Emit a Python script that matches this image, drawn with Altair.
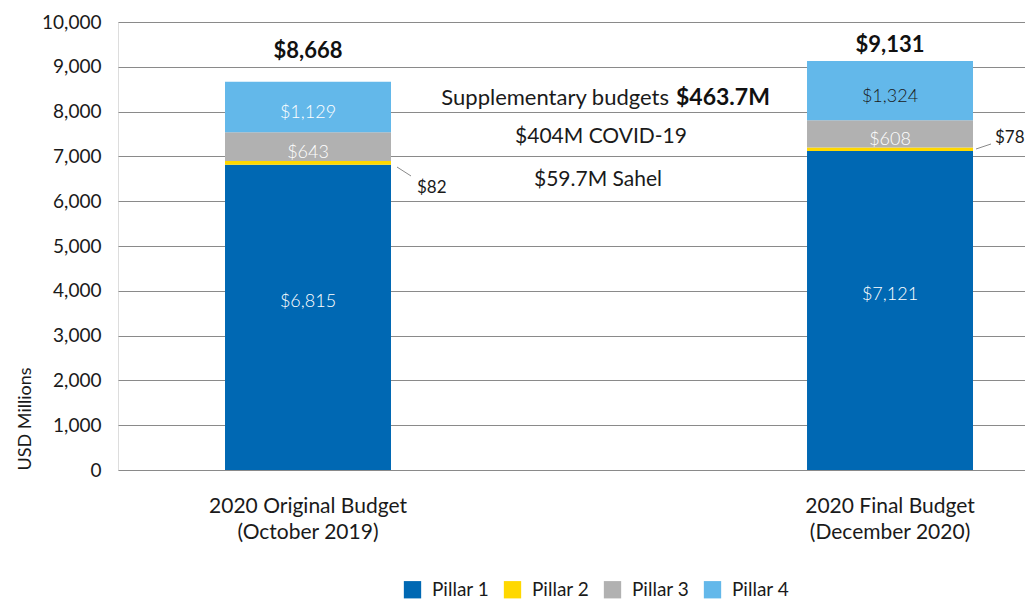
import altair as alt
import pandas as pd

categories = ["2020 Original Budget|(October 2019)", "2020 Final Budget|(December 2020)"]
pillars = ["Pillar 1", "Pillar 2", "Pillar 3", "Pillar 4"]
original = [6815, 82, 643, 1129]
final = [7121, 78, 608, 1324]
totals = [8668, 9131]
pillar_colors = ["#0068b3", "#ffd800", "#b1b1b1", "#63b8ea"]
y_ticks = [0, 1000, 2000, 3000, 4000, 5000, 6000, 7000, 8000, 9000, 10000]

FONT = "Lato"
INK = "#1a1a1a"

rows = []
for ci, (cat, vals) in enumerate(zip(categories, [original, final])):
    cum = 0
    for pi, (p, v) in enumerate(zip(pillars, vals)):
        rows.append({
            "cat": cat, "pillar": p, "value": v, "order": pi,
            "mid": cum + v / 2.0,
            "label": "${:,}".format(v),
            "tcolor": INK if (ci == 1 and pi == 3) else "#ffffff",
        })
        cum += v
df = pd.DataFrame(rows)
tot_df = pd.DataFrame({"cat": categories, "total": totals,
                       "label": ["${:,}".format(t) for t in totals]})

xscale = alt.Scale(domain=categories, paddingInner=0.7148, paddingOuter=0.1366, align=0.673)
xenc = alt.X("cat:N", scale=xscale, sort=categories,
             axis=alt.Axis(title=None, labelAngle=0, domain=False, ticks=False,
                           labelExpr="split(datum.label, '|')", labelLineHeight=26,
                           labelFontSize=21, labelColor=INK, labelFont=FONT, labelLimit=0,
                           labelPadding=25, labelBaseline="top"))
yscale = alt.Scale(domain=[0, 10000], nice=False)
yenc = alt.Y("value:Q", stack="zero", scale=yscale,
             axis=alt.Axis(title="USD Millions", values=y_ticks, format=",.0f",
                           domain=False, ticks=False, labelPadding=17,
                           labelFontSize=19, labelColor=INK, labelFont=FONT,
                           grid=True, gridColor="#8a8a8a", gridWidth=1,
                           titleFont=FONT, titleFontSize=18, titleFontWeight="normal",
                           titleColor=INK, titleAngle=270, titleAlign="left",
                           titleBaseline="bottom", titleX=-84, titleY=448))

bars = alt.Chart(df).mark_bar().encode(
    x=xenc,
    y=yenc,
    color=alt.Color("pillar:N", scale=alt.Scale(domain=pillars, range=pillar_colors),
                    legend=alt.Legend(title=None, orient="none", legendX=285, legendY=558,
                                      direction="horizontal", symbolType="square",
                                      symbolSize=300, symbolStrokeWidth=0,
                                      labelFontSize=19, labelFont=FONT, labelColor=INK,
                                      labelOffset=10, columnPadding=13, padding=0)),
    order=alt.Order("order:Q", sort="ascending"),
)

inner = alt.Chart(df).transform_filter(
    "datum.pillar == 'Pillar 3' || datum.pillar == 'Pillar 4'"
).mark_text(font=FONT, fontSize=18, fontWeight=300, baseline="alphabetic", dy=11.5).encode(
    x=alt.X("cat:N", scale=xscale, sort=categories),
    y=alt.Y("mid:Q", scale=yscale),
    text="label:N",
    fill=alt.Fill("tcolor:N", scale=None),
)

inner1 = alt.Chart(df).transform_filter("datum.pillar == 'Pillar 1'").mark_text(
    font=FONT, fontSize=18, fontWeight=300, baseline="alphabetic", dy=-10.5, fill="#ffffff"
).encode(
    x=alt.X("cat:N", scale=xscale, sort=categories),
    y=alt.Y("mid:Q", scale=yscale),
    text="label:N",
)

tot0 = alt.Chart(tot_df).transform_filter(alt.datum.cat == categories[0]).mark_text(
    font=FONT, fontSize=22, fontWeight="bold", baseline="alphabetic", dy=-24, fill="#111111"
).encode(x=alt.X("cat:N", scale=xscale, sort=categories),
         y=alt.Y("total:Q", scale=yscale), text="label:N")
tot1 = alt.Chart(tot_df).transform_filter(alt.datum.cat == categories[1]).mark_text(
    font=FONT, fontSize=22, fontWeight="bold", baseline="alphabetic", dy=-9, fill="#111111"
).encode(x=alt.X("cat:N", scale=xscale, sort=categories),
         y=alt.Y("total:Q", scale=yscale), text="label:N")

# single-row source for annotations so each is drawn once
base = alt.Chart(pd.DataFrame({"one": [1]}))

lead82 = base.mark_rule(color="#8a8a8a", strokeWidth=1).encode(
    x=alt.value(279), x2=alt.value(293), y=alt.datum(6763), y2=alt.datum(6563))
lab82 = base.mark_text(font=FONT, fontSize=17, align="left",
                       baseline="middle", fill=INK).encode(
    x=alt.value(299), y=alt.datum(6295), text=alt.value("${}".format(original[1])))
lead78 = base.mark_rule(color="#8a8a8a", strokeWidth=1).encode(
    x=alt.value(858), x2=alt.value(873), y=alt.datum(7165), y2=alt.datum(7277))
lab78 = base.mark_text(font=FONT, fontSize=17, align="left",
                       baseline="middle", fill=INK).encode(
    x=alt.value(877), y=alt.datum(7411), text=alt.value("${}".format(final[1])))

sup1 = base.mark_text(font=FONT, fontSize=22, align="right",
                      baseline="middle", fill=INK).encode(
    x=alt.value(551), y=alt.datum(8304), text=alt.value("Supplementary budgets"))
sup2 = base.mark_text(font=FONT, fontSize=23, fontWeight="bold", align="left", baseline="middle",
                      fill="#111111").encode(
    x=alt.value(558), y=alt.datum(8304), text=alt.value("$463.7M"))
covid = base.mark_text(font=FONT, fontSize=21, align="center",
                       baseline="middle", fill=INK).encode(
    x=alt.value(483), y=alt.datum(7433), text=alt.value("$404M COVID-19"))
sahel = base.mark_text(font=FONT, fontSize=21, align="center",
                       baseline="middle", fill=INK).encode(
    x=alt.value(480), y=alt.datum(6473), text=alt.value("$59.7M Sahel"))

chart = alt.layer(bars, inner, inner1, tot0, tot1, lead82, lab82, lead78, lab78,
                  sup1, sup2, covid, sahel).properties(
    width=907, height=448,
    autosize=alt.AutoSizeParams(type="none"),
    padding={"left": 110, "top": 14, "right": 0, "bottom": 130},
).configure_view(stroke=None).configure(font=FONT)

chart.save("out.html", embed_options={"renderer": "svg", "actions": False})
